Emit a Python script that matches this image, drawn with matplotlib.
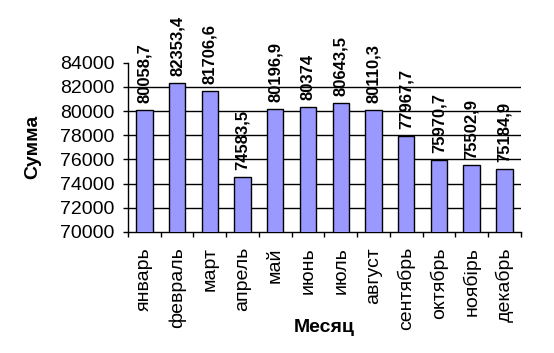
import numpy as np
import matplotlib.pyplot as plt

plt.rcParams['font.family'] = ['Liberation Sans', 'DejaVu Sans']

# Monthly totals
months = ['январь', 'февраль', 'март', 'апрель', 'май', 'июнь', 'июль',
          'август', 'сентябрь', 'октябрь', 'ноябірь', 'декабрь']
values = [80058.7, 82353.4, 81706.6, 74583.5, 80196.9, 80374, 80643.5,
          80110.3, 77967.7, 75970.7, 75502.9, 75184.9]
yticks = [70000, 72000, 74000, 76000, 78000, 80000, 82000, 84000]


def fmt(v):
    s = f'{v:.1f}'.rstrip('0').rstrip('.')
    return s.replace('.', ',')


fig = plt.figure(figsize=(5.54, 3.53), dpi=100)
ax = fig.add_axes([0.231, 0.343, 0.709, 0.479])

x = np.arange(len(months))
bars = ax.bar(x, values, width=0.5, color='#9999FF', edgecolor='black',
              linewidth=1, zorder=3)

ax.set_ylim(yticks[0], yticks[-1])
ax.set_xlim(-0.5, len(months) - 0.5)
ax.set_yticks(yticks)
ax.set_yticklabels([str(t) for t in yticks], fontsize=14)

# gridlines (none on the top edge)
for t in yticks[1:-1]:
    ax.axhline(t, color='black', linewidth=1, zorder=1)

# month labels centred, tick marks on category boundaries
ax.set_xticks(x)
ax.set_xticklabels(months, rotation=90, fontsize=14)
ax.tick_params(axis='x', which='major', length=0, pad=11)
ax.set_xticks(np.arange(len(months) + 1) - 0.5, minor=True)
ax.tick_params(axis='x', which='minor', length=3.5, width=1, direction='out')
ax.tick_params(axis='y', length=3.5, width=1, direction='out', pad=6)

for s in ['top', 'right']:
    ax.spines[s].set_visible(False)
for s in ['left', 'bottom']:
    ax.spines[s].set_linewidth(1)
    ax.spines[s].set_color('black')

for b, v in zip(bars, values):
    ax.annotate(fmt(v), (b.get_x() + b.get_width() / 2, v),
                xytext=(0, 5), textcoords='offset points',
                rotation=90, ha='center', va='bottom',
                fontsize=12, fontweight='bold', annotation_clip=False)

fig.text(33 / 554, 1 - 147 / 353, 'Сумма', rotation=90, ha='center', va='center',
         fontsize=14, fontweight='bold')
fig.text(324 / 554, 1 - 328 / 353, 'Месяц', ha='center', va='center',
         fontsize=14, fontweight='bold')

fig.savefig('out.png', dpi=100)
